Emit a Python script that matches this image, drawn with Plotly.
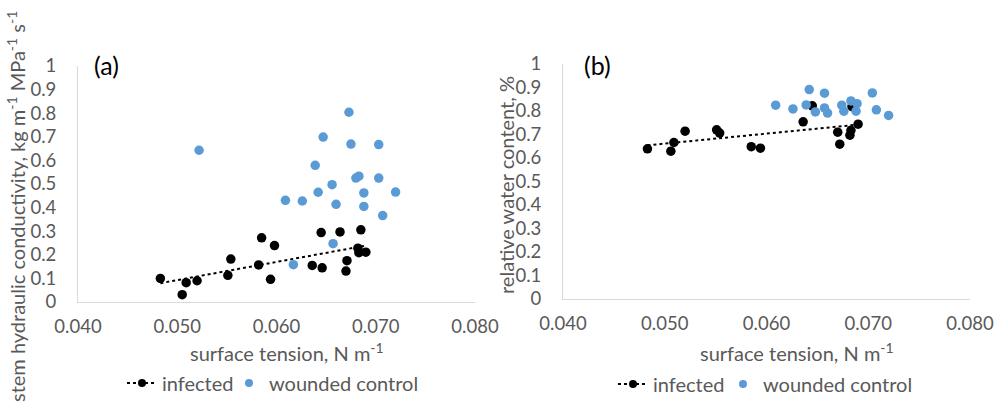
import numpy as np
import plotly.graph_objects as go

# ---------------- data ----------------
# panel (a): stem hydraulic conductivity vs surface tension
a_inf_x = [0.0483, 0.0505, 0.0509, 0.0520, 0.0551, 0.0554, 0.0582, 0.0585, 0.0594, 0.0598,
           0.0636, 0.0645, 0.0646, 0.0664, 0.0670, 0.0671, 0.0682, 0.0683, 0.0685, 0.0690]
a_inf_y = [0.100, 0.031, 0.082, 0.090, 0.113, 0.182, 0.157, 0.272, 0.096, 0.239,
           0.155, 0.294, 0.145, 0.297, 0.131, 0.175, 0.228, 0.209, 0.306, 0.211]
a_wc_x = [0.0522, 0.0609, 0.0626, 0.0617, 0.0639, 0.0642, 0.0647, 0.0656, 0.0657, 0.0660,
          0.0673, 0.0675, 0.0680, 0.0683, 0.0688, 0.0688, 0.0703, 0.0703, 0.0707, 0.0720]
a_wc_y = [0.643, 0.431, 0.428, 0.158, 0.579, 0.465, 0.699, 0.497, 0.247, 0.414,
          0.804, 0.669, 0.525, 0.533, 0.462, 0.405, 0.667, 0.525, 0.366, 0.466]

# panel (b): relative water content vs surface tension
b_inf_x = [0.0483, 0.0506, 0.0509, 0.0520, 0.0551, 0.0554, 0.0585, 0.0594,
           0.0636, 0.0645, 0.0670, 0.0672, 0.0683, 0.0682, 0.0690, 0.0684]
b_inf_y = [0.639, 0.629, 0.666, 0.714, 0.720, 0.706, 0.648, 0.642,
           0.754, 0.822, 0.710, 0.659, 0.718, 0.697, 0.744, 0.819]
b_wc_x = [0.0609, 0.0626, 0.0639, 0.0642, 0.0648, 0.0657, 0.0657, 0.0660,
          0.0674, 0.0676, 0.0683, 0.0689, 0.0688, 0.0704, 0.0708, 0.0720]
b_wc_y = [0.825, 0.809, 0.826, 0.891, 0.796, 0.876, 0.813, 0.791,
          0.825, 0.799, 0.843, 0.831, 0.799, 0.877, 0.805, 0.781]

x_ticks = [0.04, 0.05, 0.06, 0.07, 0.08]
x_tick_labels = ["0.040", "0.050", "0.060", "0.070", "0.080"]

# ---------------- style ----------------
BLACK = "#000000"
BLUE = "#5B9BD5"
GREY = "#595959"
FONT = "Lato"
FS = 20       # titles / legend
TFS = 18.5    # tick labels
W, H = 1000, 403

def px_x(v):
    return v / W

def px_y(v):
    return 1 - v / H

fig = go.Figure()

def trend(xs, ys):
    k, b = np.polyfit(xs, ys, 1)
    x0, x1 = min(xs), max(xs)
    return [x0, x1], [k * x0 + b, k * x1 + b]

panels = [
    ("x", "y", a_inf_x, a_inf_y, a_wc_x, a_wc_y, "legend", "legend2"),
    ("x2", "y2", b_inf_x, b_inf_y, b_wc_x, b_wc_y, "legend3", "legend4"),
]
for xa, ya, ix, iy, wx, wy, lg1, lg2 in panels:
    tx, ty = trend(ix, iy)
    fig.add_trace(go.Scatter(x=ix, y=iy, mode="markers", xaxis=xa, yaxis=ya,
                             marker=dict(color=BLACK, size=9.5), showlegend=False))
    fig.add_trace(go.Scatter(x=tx, y=ty, mode="lines", xaxis=xa, yaxis=ya,
                             line=dict(color=BLACK, width=2, dash="dot"), showlegend=False))
    fig.add_trace(go.Scatter(x=wx, y=wy, mode="markers", xaxis=xa, yaxis=ya,
                             marker=dict(color=BLUE, size=9.5), showlegend=False))
    # legend entries
    fig.add_trace(go.Scatter(x=[None], y=[None], mode="lines+markers", xaxis=xa, yaxis=ya,
                             name="infected", legend=lg1,
                             line=dict(color=BLACK, width=2, dash="dot"),
                             marker=dict(color=BLACK, size=8)))
    fig.add_trace(go.Scatter(x=[None], y=[None], mode="markers", xaxis=xa, yaxis=ya,
                             name="wounded control", legend=lg2,
                             marker=dict(color=BLUE, size=8)))

xcommon = dict(range=[0.04, 0.08], tickvals=x_ticks, ticktext=x_tick_labels,
               showgrid=False, zeroline=False, showline=True, linecolor="#d9d9d9",
               linewidth=1, ticks="", tickfont=dict(family=FONT, size=TFS, color=GREY),
               ticklabelstandoff=8, automargin=False, fixedrange=True)
ycommon = dict(range=[0, 1], dtick=0.1, tick0=0, showgrid=False, zeroline=False,
               showline=True, linecolor="#d9d9d9", linewidth=1, ticks="",
               tickfont=dict(family=FONT, size=TFS, color=GREY),
               ticklabelstandoff=17, automargin=False, fixedrange=True)

def leg(xl, yc):
    return dict(orientation="h", x=px_x(xl), xanchor="left", y=px_y(yc), yanchor="middle",
                font=dict(family=FONT, size=FS, color=GREY), itemwidth=30,
                bgcolor="rgba(0,0,0,0)", borderwidth=0)

fig.update_layout(
    width=W, height=H,
    margin=dict(l=0, r=0, t=0, b=0, autoexpand=False),
    paper_bgcolor="white", plot_bgcolor="white",
    font=dict(family=FONT, size=FS, color=GREY),
    xaxis=dict(domain=[px_x(78), px_x(475)], anchor="y", **xcommon),
    yaxis=dict(domain=[px_y(302), px_y(66)], anchor="x", **ycommon),
    xaxis2=dict(domain=[px_x(563), px_x(970)], anchor="y2", **xcommon),
    yaxis2=dict(domain=[px_y(299), px_y(64)], anchor="x2", **ycommon),
    legend=leg(122, 383),
    legend2=leg(229, 383),
    legend3=leg(613, 384),
    legend4=leg(723, 384),
)

annots = [
    dict(text="stem hydraulic conductivity, kg m<sup>-1</sup> MPa<sup>-1</sup> s<sup>-1</sup>",
         x=px_x(16), y=px_y(207), textangle=-90),
    dict(text="relative water content, %", x=px_x(506), y=px_y(185), textangle=-90),
    dict(text="surface tension, N m<sup>-1</sup>", x=px_x(287), y=px_y(352), textangle=0),
    dict(text="surface tension, N m<sup>-1</sup>", x=px_x(797), y=px_y(352), textangle=0),
]
for a in annots:
    fig.add_annotation(xref="paper", yref="paper", showarrow=False, xanchor="center",
                       yanchor="middle", font=dict(family=FONT, size=FS, color=GREY), **a)

for lab, xc in [("(a)", 106), ("(b)", 597)]:
    fig.add_annotation(text=lab, xref="paper", yref="paper", x=px_x(xc), y=px_y(65),
                       showarrow=False, xanchor="center", yanchor="middle",
                       font=dict(family=FONT, size=25, color=BLACK))

fig.write_html("out.html")
